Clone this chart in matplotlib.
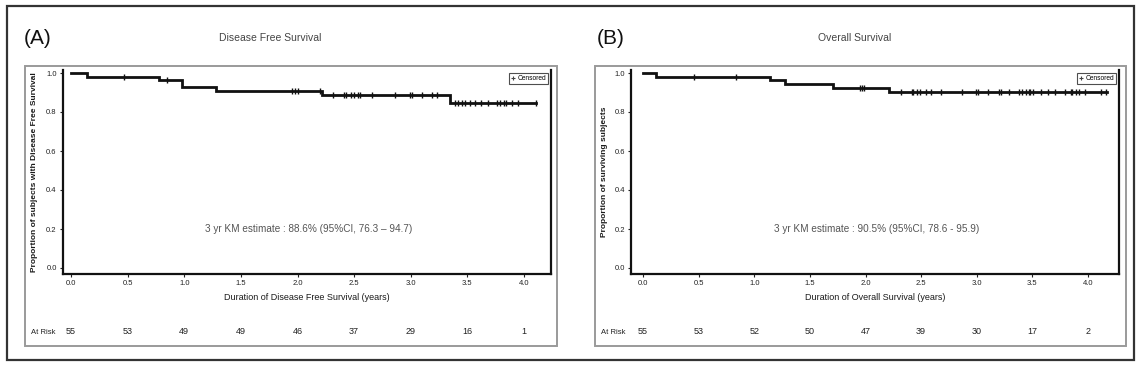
import matplotlib
matplotlib.use("Agg")
import matplotlib.pyplot as plt
from matplotlib.patches import Rectangle
from matplotlib.lines import Line2D
import matplotlib.transforms as mtransforms

plt.rcParams['font.family'] = ['Liberation Sans', 'DejaVu Sans']

# ---------------- data ----------------
xticks = [0.0, 0.5, 1.0, 1.5, 2.0, 2.5, 3.0, 3.5, 4.0]
yticks = [0.0, 0.2, 0.4, 0.6, 0.8, 1.0]

# Panel A: Disease Free Survival (step times and survival levels)
dfs_times = [0.0, 0.14, 0.78, 0.98, 1.28, 2.22, 3.35]
dfs_surv = [1.0, 0.982, 0.963, 0.926, 0.907, 0.886, 0.846]
dfs_end = 4.11
dfs_censor = [0.47, 0.85, 1.95, 1.98, 2.0, 2.2, 2.31, 2.41, 2.43, 2.47, 2.50,
              2.53, 2.55, 2.66, 2.86, 2.99, 3.01, 3.10, 3.19, 3.23, 3.39, 3.42,
              3.45, 3.48, 3.52, 3.57, 3.62, 3.68, 3.76, 3.79, 3.82, 3.84, 3.89,
              3.95, 4.11]
dfs_risk = [55, 53, 49, 49, 46, 37, 29, 16, 1]

# Panel B: Overall Survival
os_times = [0.0, 0.12, 1.14, 1.28, 1.71, 2.21]
os_surv = [1.0, 0.982, 0.963, 0.944, 0.925, 0.905]
os_end = 4.17
os_censor = [0.46, 0.84, 1.95, 1.97, 1.99, 2.32, 2.42, 2.43, 2.46, 2.49, 2.54,
             2.59, 2.68, 2.87, 2.99, 3.01, 3.10, 3.20, 3.22, 3.29, 3.38, 3.41,
             3.44, 3.47, 3.48, 3.51, 3.58, 3.64, 3.70, 3.79, 3.85, 3.86, 3.89,
             3.92, 3.97, 4.12, 4.16]
os_risk = [55, 53, 52, 50, 47, 39, 30, 17, 2]

W, H = 1140, 366
fig = plt.figure(figsize=(W / 100, H / 100), dpi=100)


def rect(l, t, r, b):
    return [l / W, 1 - b / H, (r - l) / W, (b - t) / H]


def level_at(times, surv, t):
    s = surv[0]
    for ti, si in zip(times, surv):
        if t >= ti:
            s = si
    return s


# outer box
fig.patches.append(Rectangle((7 / W, 1 - 360 / H), (1134 - 7) / W, (360 - 6) / H,
                             transform=fig.transFigure, fill=False,
                             edgecolor='#333333', lw=1.6))

panels = [
    dict(letter='(A)', title='Disease Free Survival', times=dfs_times, surv=dfs_surv,
         end=dfs_end, cens=dfs_censor, risk=dfs_risk,
         ylabel='Proportion of subjects with Disease Free Survival',
         xlabel='Duration of Disease Free Survival (years)',
         note='3 yr KM estimate : 88.6% (95%CI, 76.3 – 94.7)',
         frame=(25, 66, 557, 346), axes=(63, 70, 551, 274), x0=71, x4=524,
         letter_x=24, title_x=270, ylab_x=35, risk_x=31, note_x=305),
    dict(letter='(B)', title='Overall Survival', times=os_times, surv=os_surv,
         end=os_end, cens=os_censor, risk=os_risk,
         ylabel='Proportion of surviving subjects',
         xlabel='Duration of Overall Survival (years)',
         note='3 yr KM estimate : 90.5% (95%CI, 78.6 - 95.9)',
         frame=(595, 66, 1126, 346), axes=(631, 70, 1119, 274), x0=643, x4=1088,
         letter_x=597, title_x=855, ylab_x=604, risk_x=601, note_x=877),
]

for p in panels:
    fl, ft, fr, fb = p['frame']
    fig.patches.append(Rectangle((fl / W, 1 - fb / H), (fr - fl) / W, (fb - ft) / H,
                                 transform=fig.transFigure, fill=False,
                                 edgecolor='#9a9a9a', lw=1.4))
    al, at, ar, ab = p['axes']
    ax = fig.add_axes(rect(al, at, ar, ab))
    pxyr = (p['x4'] - p['x0']) / 4.0
    ax.set_xlim((al - p['x0']) / pxyr, (ar - p['x0']) / pxyr)
    ax.set_ylim((268 - ab) / 195.0, (268 - at) / 195.0)

    xs = list(p['times']) + [p['end']]
    ys = list(p['surv']) + [p['surv'][-1]]
    ax.step(xs, ys, where='post', color='#111111', lw=2.0, solid_joinstyle='miter')
    cy = [level_at(p['times'], p['surv'], c) for c in p['cens']]
    ax.plot(p['cens'], cy, ls='none', marker='|', ms=4.5, mew=1.0, color='#111111')

    ax.set_xticks(xticks)
    ax.set_xticklabels([f'{v:.1f}' for v in xticks])
    ax.set_yticks(yticks)
    ax.set_yticklabels([f'{v:.1f}' for v in yticks])
    ax.tick_params(labelsize=5.5, length=2.5, width=0.8, colors='#222222', pad=2)
    for s in ['left', 'bottom', 'right']:
        ax.spines[s].set_linewidth(1.6)
        ax.spines[s].set_color('#111111')
    ax.spines['top'].set_visible(False)
    ax.tick_params(axis='y', right=False)

    ax.set_xlabel(p['xlabel'], fontsize=6.5, color='#1a1a1a', labelpad=4)
    fig.text(p['ylab_x'] / W, 1 - 172 / H, p['ylabel'], rotation=90,
             fontsize=6, color='#1a1a1a', ha='center', va='center',
             fontweight='bold')

    ax.text(2.1, 0.2, p['note'], ha='center', va='center', fontsize=7.2,
            color='#555555', transform=ax.transData)

    leg = ax.legend(handles=[Line2D([], [], ls='none', marker='+', ms=3.5,
                                    mew=0.8, color='#444444', label='Censored')],
                    loc='upper right', fontsize=4.8, frameon=True, fancybox=False,
                    borderpad=0.35, handlelength=0.6, handletextpad=0.3,
                    borderaxespad=0.4)
    leg.get_frame().set_edgecolor('#222222')
    leg.get_frame().set_linewidth(0.8)

    trans = mtransforms.blended_transform_factory(ax.transData, fig.transFigure)
    for xv, n in zip(xticks, p['risk']):
        ax.text(xv, 1 - 332 / H, str(n), transform=trans, ha='center', va='center',
                fontsize=6.5, color='#222222')
    fig.text(p['risk_x'] / W, 1 - 332 / H, 'At Risk', ha='left', va='center',
             fontsize=5.5, color='#222222')

    fig.text(p['letter_x'] / W, 1 - 38 / H, p['letter'], ha='left', va='center',
             fontsize=15, color='#111111')
    fig.text(p['title_x'] / W, 1 - 38 / H, p['title'], ha='center', va='center',
             fontsize=7.5, color='#444444')

fig.savefig('out.png', dpi=100)
